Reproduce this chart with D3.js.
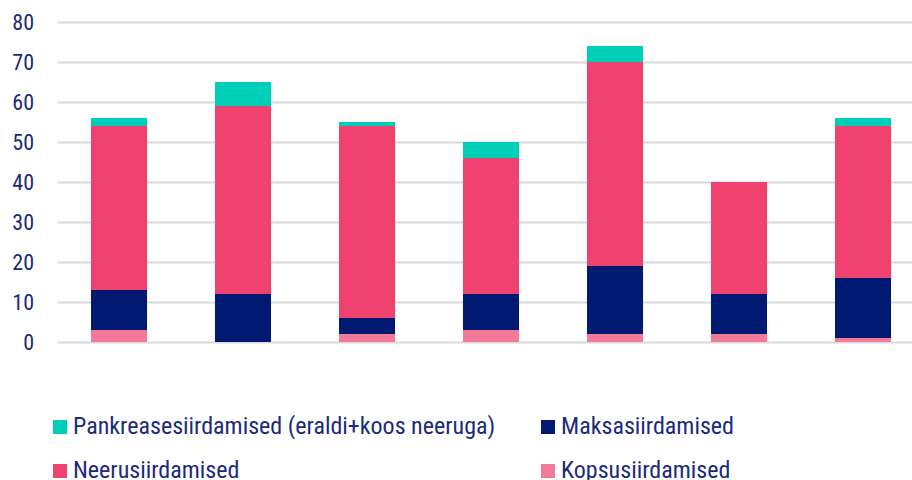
<!DOCTYPE html>
<html><head><meta charset="utf-8">
<script src="https://cdn.jsdelivr.net/npm/d3@7"></script>
<style>body{margin:0;background:#fff}svg{display:block}</style>
</head><body>
<svg id="c" width="912" height="480"></svg>
<script>
const categories = ["1","2","3","4","5","6","7"];
const kopsu = [3,0,2,3,2,2,1];
const maksa = [10,12,4,9,17,10,15];
const neeru = [41,47,48,34,51,28,38];
const pankrease = [2,6,1,4,4,0,2];
const yTicks = [0,10,20,30,40,50,60,70,80];
const seriesNames = ["Kopsusiirdamised","Maksasiirdamised","Neerusiirdamised","Pankreasesiirdamised (eraldi+koos neeruga)"];
const seriesColors = ["#f47b98","#001a72","#ef426f","#00cfb7"];
const legendOrder = [3,1,2,0];

const font = "'Liberation Sans Narrow','Roboto Condensed','Open Sans',sans-serif";
const textColor = "#1b2a7b";
const svg = d3.select("#c");
const x = d3.scaleBand().domain(categories).range([57,925]).paddingInner(0.548).paddingOuter(0.274);
const y = d3.scaleLinear().domain([0,80]).range([342,22]);

const rows = categories.map((c,i)=>({cat:c, s0:kopsu[i], s1:maksa[i], s2:neeru[i], s3:pankrease[i]}));
const stack = d3.stack().keys(["s0","s1","s2","s3"])(rows);

const yAxis = d3.axisLeft(y).tickValues(yTicks).tickSize(-(912-58)).tickPadding(24);
const g = svg.append("g").attr("transform","translate(58,0)").call(yAxis);
g.select(".domain").remove();
g.selectAll(".tick line").attr("stroke","#d9d9d9").attr("stroke-width",2);
g.selectAll(".tick text").attr("fill",textColor).attr("font-family",font).attr("font-size",22).attr("text-anchor","end").attr("dx",0);

stack.forEach((layer,k)=>{
  svg.append("g").selectAll("rect").data(layer).join("rect")
    .attr("x",d=>x(d.data.cat)).attr("width",x.bandwidth())
    .attr("y",d=>y(d[1])).attr("height",d=>y(d[0])-y(d[1]))
    .attr("fill",seriesColors[k]);
});

const legPos = [[53,434],[541,434],[53,478],[541,478]];
legendOrder.forEach((k,i)=>{
  const [lx,ly]=legPos[i];
  const lg = svg.append("g").attr("transform",`translate(${lx},${ly})`);
  lg.append("rect").attr("x",0).attr("y",-14).attr("width",14).attr("height",14).attr("fill",seriesColors[k]);
  lg.append("text").attr("x",20).attr("y",0).attr("fill",textColor).attr("font-family",font).attr("font-size",24).text(seriesNames[k]);
});
</script>
</body></html>
